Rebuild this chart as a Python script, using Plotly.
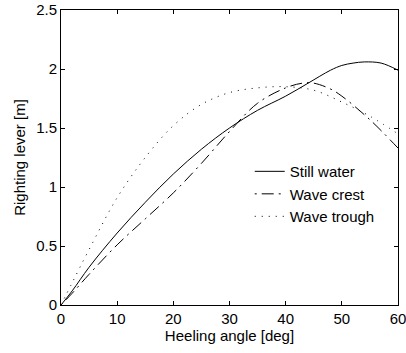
import plotly.graph_objects as go

angle = [0, 2, 5, 10, 15, 20, 25, 30, 35, 40, 44, 48, 50, 52, 54, 57, 60]
still_water = [0, 0.12, 0.32, 0.61, 0.87, 1.11, 1.32, 1.50, 1.65, 1.77, 1.88, 1.99, 2.03, 2.05, 2.06, 2.05, 1.99]

angle_c = [0, 2, 5, 10, 15, 20, 25, 30, 35, 40, 43, 45, 48, 50, 55, 60]
wave_crest = [0, 0.10, 0.26, 0.51, 0.73, 0.95, 1.20, 1.47, 1.71, 1.84, 1.88, 1.88, 1.83, 1.77, 1.57, 1.33]

angle_t = [0, 2, 5, 10, 15, 20, 25, 30, 35, 40, 45, 50, 55, 60]
wave_trough = [0, 0.19, 0.47, 0.91, 1.25, 1.52, 1.70, 1.80, 1.84, 1.85, 1.82, 1.72, 1.60, 1.45]

x_ticks = [0, 10, 20, 30, 40, 50, 60]
y_ticks = [0, 0.5, 1, 1.5, 2, 2.5]

FONT = "Liberation Sans, Arial"
fig = go.Figure()
fig.add_trace(go.Scatter(x=angle, y=still_water, mode="lines", name="Still water",
                         line=dict(color="black", width=1, shape="spline")))
fig.add_trace(go.Scatter(x=angle_c, y=wave_crest, mode="lines", name="Wave crest",
                         line=dict(color="black", width=1, shape="spline", dash="2px,5px,12px,5px")))
fig.add_trace(go.Scatter(x=angle_t, y=wave_trough, mode="lines", name="Wave trough",
                         line=dict(color="black", width=1, shape="spline", dash="1px,6px")))

axis_common = dict(showgrid=False, zeroline=False, showline=True, linecolor="black", linewidth=1,
                   mirror="ticks", ticks="inside", ticklen=4, tickcolor="black", automargin=False,
                   ticklabeloverflow="allow",
                   tickfont=dict(family=FONT, size=15, color="black"))

fig.update_xaxes(range=[0, 60], tickvals=x_ticks, ticktext=[str(v) for v in x_ticks],
                 title=dict(text="Heeling angle [deg]", font=dict(family=FONT, size=15, color="black"), standoff=2),
                 **axis_common)
fig.update_yaxes(range=[0, 2.5], tickvals=y_ticks, ticktext=[("%g" % v) for v in y_ticks],
                 title=dict(text="Righting lever [m]", font=dict(family=FONT, size=15, color="black"), standoff=6),
                 **axis_common)

fig.update_layout(
    width=406, height=353,
    margin=dict(l=61, r=8, t=10, b=48),
    plot_bgcolor="white", paper_bgcolor="white",
    legend=dict(x=0.56, y=0.376, xanchor="left", yanchor="middle", bgcolor="rgba(0,0,0,0)",
                font=dict(family=FONT, size=15, color="black"),
                itemwidth=30, tracegroupgap=0),
    showlegend=True,
)

fig.write_html("out.html", config={"displayModeBar": False},
               post_script="document.body.style.margin='0';")
